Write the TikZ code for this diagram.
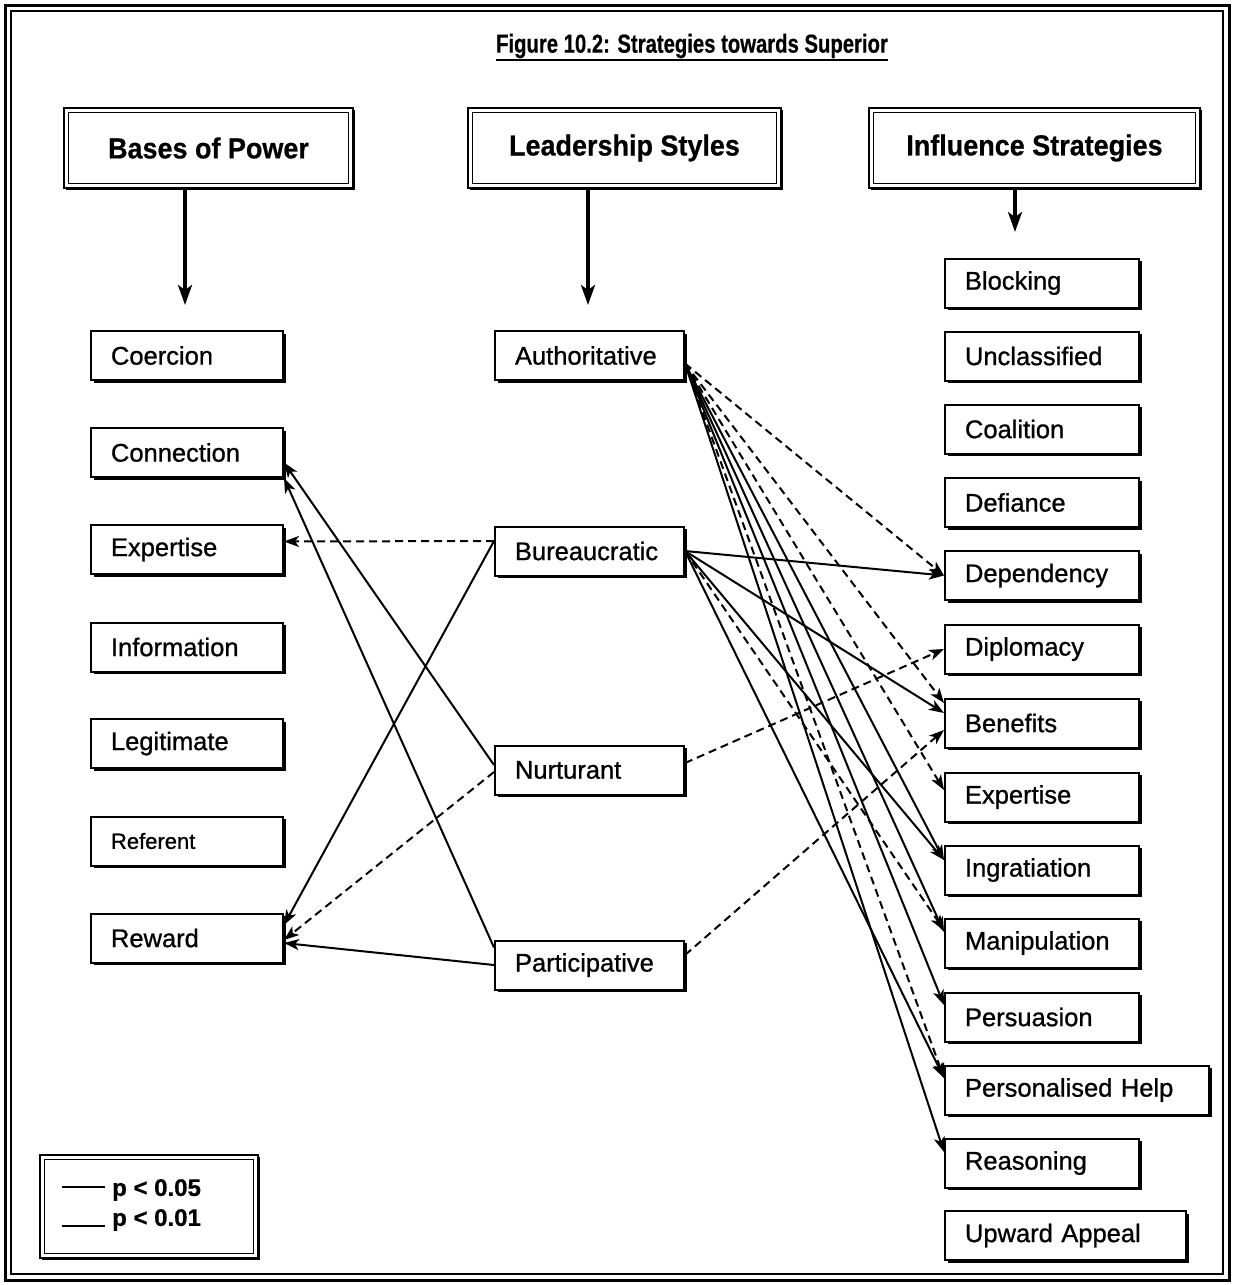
\documentclass[tikz,border=0pt]{standalone}
\usepackage{graphicx}
\usepackage{fontspec}
\setmainfont{Liberation Sans}
\newfontfamily\boxfont[BoldFont={Liberation Sans}, BoldFeatures={FakeBold=0.9}]{Liberation Sans}
\newfontfamily\headfont[BoldFont={Liberation Sans Bold}, BoldFeatures={FakeBold=0.6}]{Liberation Sans}
\usetikzlibrary{arrows.meta,shadows,calc}
\begin{document}
\begin{tikzpicture}[x=1pt,y=-1pt,
  boxed/.style={draw, line width=2pt, fill=white, rectangle, anchor=west,
    minimum height=49pt, inner xsep=20pt, inner ysep=0pt, align=left,
    text width=#1, font=\boxfont\bfseries\fontsize{25.5}{28}\selectfont,
    drop shadow={shadow xshift=2.5pt, shadow yshift=-2.5pt, opacity=1, fill=black}},
  hdr/.style={draw, line width=2.8pt, fill=white, rectangle, minimum height=80pt,
    minimum width=#1, inner sep=0pt, font=\headfont\bfseries\fontsize{29}{32}\selectfont,
    drop shadow={shadow xshift=2pt, shadow yshift=-2pt, opacity=1, fill=black}},
  headarrow/.style={line width=3.4pt, -{Stealth[length=20pt,width=14pt,inset=5pt]}},
  solidarrow/.style={line width=2pt, -{Stealth[length=15pt,width=11pt,inset=4pt]}},
  dasharrow/.style={solidarrow, dash pattern=on 8pt off 5pt},
  legtext/.style={anchor=west, inner sep=0pt, font=\headfont\bfseries\fontsize{24}{28}\selectfont}
]
\useasboundingbox (0,0) rectangle (1234,1285);
\fill[white] (0,0) rectangle (1234,1285);

% double frame round the figure
\draw[line width=3pt] (5,5) rectangle (1229,1280);
\draw[line width=1.2pt] (11,11) rectangle (1223,1274);

% title
\node[inner sep=0pt, font=\headfont\bfseries\fontsize{26}{29}\selectfont] (title) at (692,46)
  {\scalebox{0.78}[1]{Figure 10.2: Strategies towards Superior}};
\draw[line width=1.8pt] ([yshift=-7pt]title.base west) -- ([yshift=-7pt]title.base east);

% column headings
\node[hdr=289pt] (hbases) at (208.5,148) {\scalebox{0.93}[1]{Bases of Power}};
\node[hdr=313pt] (hlead)  at (624.5,148) {\scalebox{0.93}[1]{Leadership Styles}};
\node[hdr=331pt] (hinfl)  at (1034.5,148) {\scalebox{0.93}[1]{Influence Strategies}};
\foreach \n in {hbases,hlead,hinfl}
  \draw[line width=1.4pt] ([shift={(6pt,-6pt)}]\n.north west) rectangle ([shift={(-6pt,6pt)}]\n.south east);

\coordinate (abases) at (185,305);
\coordinate (alead)  at (588,305);
\coordinate (ainfl)  at (1015,232);
\draw[headarrow] (hbases.south -| abases) -- (abases);
\draw[headarrow] (hlead.south -| alead) -- (alead);
\draw[headarrow] (hinfl.south -| ainfl) -- (ainfl);

% bases of power
\node[boxed=152pt] (coer)   at (90,355.5) {Coercion};
\node[boxed=152pt] (conn)   at (90,452.5) {Connection};
\node[boxed=152pt] (expL)   at (90,549.5) {Expertise};
\node[boxed=152pt] (info)   at (90,647)   {Information};
\node[boxed=152pt] (legit)  at (90,743.5) {Legitimate};
\node[boxed=152pt, font=\boxfont\bfseries\fontsize{22}{26}\selectfont] (refer) at (90,841) {Referent};
\node[boxed=152pt] (reward) at (90,938)   {Reward};

% leadership styles
\node[boxed=149pt] (auth) at (494,355.5) {Authoritative};
\node[boxed=149pt] (bur)  at (494,551)   {Bureaucratic};
\node[boxed=149pt] (nurt) at (494,770)   {Nurturant};
\node[boxed=149pt] (part) at (494,965)   {Participative};

% influence strategies
\node[boxed=154pt] (block) at (944,283)    {Blocking};
\node[boxed=154pt] (uncl)  at (944,356)    {Unclassified};
\node[boxed=154pt] (coal)  at (944,429)    {Coalition};
\node[boxed=154pt] (defi)  at (944,502.5)  {Defiance};
\node[boxed=154pt] (depd)  at (944,575.5)  {Dependency};
\node[boxed=154pt] (dipl)  at (944,649)    {Diplomacy};
\node[boxed=154pt] (bene)  at (944,723)    {Benefits};
\node[boxed=154pt] (expR)  at (944,797)    {Expertise};
\node[boxed=154pt] (ingr)  at (944,870)    {Ingratiation};
\node[boxed=154pt] (mani)  at (944,943)    {Manipulation};
\node[boxed=154pt] (pers)  at (944,1017)   {Persuasion};
\node[boxed=224pt] (phelp) at (944,1090)   {Personalised Help};
\node[boxed=154pt] (reas)  at (944,1163)   {Reasoning};
\node[boxed=201pt] (upw)   at (944,1235.5) {Upward Appeal};

% links towards the bases of power
\draw[dasharrow]  ([yshift=10pt]bur.west) -- ([yshift=8pt]expL.east);
\draw[solidarrow] ([yshift=5pt]nurt.west) -- ([yshift=-10pt]conn.east);
\draw[solidarrow] ([yshift=-8pt]part.north west) -- (conn.south east);
\draw[solidarrow] ([yshift=10pt]bur.west) -- ([yshift=13pt]reward.east);
\draw[dasharrow]  ([yshift=-2pt]nurt.west) -- ([yshift=-2pt]reward.east);
\draw[solidarrow] (part.west) -- ([yshift=-5pt]reward.east);

% links towards the influence strategies
\draw[dasharrow]  ([yshift=-8pt]auth.east) -- (depd.west);
\draw[solidarrow] (bur.east) -- (depd.west);
\draw[dasharrow]  ([yshift=7pt]nurt.east) -- (dipl.west);
\draw[dasharrow]  ([yshift=-8pt]auth.east) -- ([yshift=20pt]bene.west);
\draw[solidarrow] (bur.east) -- ([yshift=10pt]bene.west);
\draw[dasharrow]  ([yshift=10pt]part.east) -- ([yshift=-7pt]bene.west);
\draw[dasharrow]  ([yshift=-8pt]auth.east) -- ([yshift=7pt]expR.west);
\draw[solidarrow] ([yshift=-8pt]auth.east) -- ([yshift=10pt]ingr.west);
\draw[solidarrow] (bur.east) -- ([yshift=10pt]ingr.west);
\draw[solidarrow] ([yshift=-8pt]auth.east) -- ([yshift=11pt]mani.west);
\draw[dasharrow]  (bur.east) -- ([yshift=13pt]mani.west);
\draw[solidarrow] ([yshift=-8pt]auth.east) -- ([yshift=12pt]pers.west);
\draw[dasharrow]  ([yshift=-8pt]auth.east) -- ([yshift=12pt]phelp.west);
\draw[solidarrow] (bur.east) -- ([yshift=12pt]phelp.west);
\draw[solidarrow] ([yshift=-8pt]auth.east) -- ([yshift=11pt]reas.west);

% legend
\node[draw, line width=2.8pt, minimum width=218pt, minimum height=103pt, inner sep=0pt,
  drop shadow={shadow xshift=2pt, shadow yshift=-2pt, opacity=1, fill=black}, fill=white] (legend) at (149,1206.5) {};
\draw[line width=1.2pt] ([shift={(6pt,-6pt)}]legend.north west) rectangle ([shift={(-6pt,6pt)}]legend.south east);
\node[legtext] (leg1) at (112,1190) {p < 0.05};
\node[legtext] (leg2) at (112,1220) {p < 0.01};
\draw[line width=1.3pt] ([xshift=-50pt,yshift=3pt]leg1.west) -- ([xshift=-7pt,yshift=3pt]leg1.west);
\draw[line width=2.4pt] ([xshift=-50pt]leg2.base west) -- ([xshift=-7pt]leg2.base west);
\end{tikzpicture}
\end{document}
